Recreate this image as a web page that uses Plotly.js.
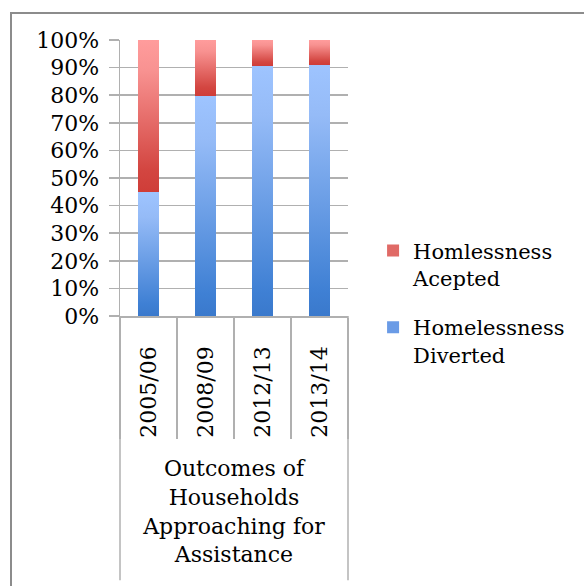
<!DOCTYPE html>
<html>
<head>
<meta charset="utf-8">
<script src="https://cdn.plot.ly/plotly-3.0.1.min.js"></script>
<style>
  html, body { margin: 0; padding: 0; background: #fff; }
  #frame { position: absolute; left: 10px; top: 12px; width: 620px; height: 620px; border: 2px solid #8c8c8c; box-sizing: border-box; pointer-events: none; }
  #chart { position: absolute; left: 0; top: 0; width: 584px; height: 586px; }
</style>
</head>
<body>
<div id="chart"></div>
<div id="frame"></div>
<script>
const categories = ['2005/06', '2008/09', '2012/13', '2013/14'];
const diverted = [44.8, 79.8, 90.6, 91.1];
const accepted = [55.2, 20.2, 9.4, 8.9];
const seriesNames = ['Homelessness<br>Diverted', 'Homlessness<br>Acepted'];
const groupLabel = 'Outcomes of<br>Households<br>Approaching for<br>Assistance';
const yTickVals = [0, 10, 20, 30, 40, 50, 60, 70, 80, 90, 100];
const yTickText = yTickVals.map(v => v + '%');

const FONT = 'DejaVu Serif, Liberation Serif, serif';
const GRID = '#b0b0b0';

const traces = [
  { type: 'bar', x: categories, y: diverted, name: seriesNames[0], legendgroup: 'd', legendrank: 2, marker: { color: '#6a9be6', line: { width: 0 } }, width: 0.37 },
  { type: 'bar', x: categories, y: accepted, name: seriesNames[1], legendgroup: 'a', legendrank: 1, marker: { color: '#e06a66', line: { width: 0 } }, width: 0.37 }
];

const layout = {
  width: 584, height: 586,
  margin: { l: 120, r: 236, t: 40, b: 270 },
  paper_bgcolor: '#fff', plot_bgcolor: '#fff',
  barmode: 'stack',
  font: { family: FONT, size: 22, color: '#000' },
  showlegend: true,
  legend: {
    x: 1.11, xanchor: 'left', y: 0.31, yanchor: 'top',
    traceorder: 'grouped', valign: 'top',
    font: { family: FONT, size: 21, color: '#000' },
    tracegroupgap: 19, itemwidth: 30, bgcolor: 'rgba(0,0,0,0)'
  },
  xaxis: {
    type: 'category',
    tickson: 'boundaries', ticks: 'outside', ticklen: 121, tickcolor: GRID, tickwidth: 1.5,
    tickangle: -90, ticklabelstandoff: 20,
    tickfont: { family: FONT, size: 22 },
    showline: true, linecolor: GRID, linewidth: 1.5,
    showgrid: false, zeroline: false, fixedrange: true,
    title: { text: groupLabel, standoff: 24, font: { family: FONT, size: 22 } }
  },
  yaxis: {
    range: [0, 100], tickvals: yTickVals, ticktext: yTickText,
    ticks: 'outside', ticklen: 10, tickcolor: GRID, tickwidth: 1.5,
    showgrid: true, gridcolor: GRID, gridwidth: 1.5,
    showline: true, linecolor: GRID, linewidth: 1.5,
    zeroline: false, fixedrange: true,
    tickfont: { family: FONT, size: 22 }, ticklabelstandoff: 5
  },
  shapes: [
    { type: 'line', xref: 'paper', yref: 'paper', x0: 0, x1: 0, y0: 0, y1: -0.957, line: { color: GRID, width: 1.5 } },
    { type: 'line', xref: 'paper', yref: 'paper', x0: 1, x1: 1, y0: 0, y1: -0.957, line: { color: GRID, width: 1.5 } }
  ],
  bargap: 0.63
};

Plotly.newPlot('chart', traces, layout, { displayModeBar: false, staticPlot: true }).then(gd => {
  const svg = gd.querySelector('svg.main-svg');
  const ns = 'http://www.w3.org/2000/svg';
  let defs = svg.querySelector('defs');
  if (!defs) { defs = document.createElementNS(ns, 'defs'); svg.insertBefore(defs, svg.firstChild); }
  function addGrad(id, stops) {
    const g = document.createElementNS(ns, 'linearGradient');
    g.setAttribute('id', id);
    g.setAttribute('x1', '0'); g.setAttribute('y1', '0');
    g.setAttribute('x2', '0'); g.setAttribute('y2', '1');
    stops.forEach(([o, c]) => {
      const s = document.createElementNS(ns, 'stop');
      s.setAttribute('offset', o); s.setAttribute('stop-color', c);
      g.appendChild(s);
    });
    defs.appendChild(g);
  }
  addGrad('gBlue', [[0, '#9ec4ff'], [0.2, '#95bbf7'], [0.9, '#3f80d4'], [1, '#3a79cc']]);
  addGrad('gRed', [[0, '#ff9c9c'], [0.2, '#f89291'], [0.85, '#d34641'], [1, '#cf3d38']]);
  const barTraces = svg.querySelectorAll('.barlayer .trace');
  barTraces.forEach((t, i) => {
    t.querySelectorAll('path').forEach(p => { p.style.fill = i === 0 ? 'url(#gBlue)' : 'url(#gRed)'; });
  });
  svg.querySelectorAll('.legend .traces').forEach(t => {
    const txt = t.querySelector('.legendtext').textContent;
    const isRed = txt.indexOf('Acepted') >= 0;
    t.querySelectorAll('.legendpoints path').forEach(p => {
      p.style.fill = isRed ? 'url(#gRed)' : 'url(#gBlue)';
      p.setAttribute('d', 'M7,7H-7V-7H7Z');
    });
  });
});
</script>
</body>
</html>
